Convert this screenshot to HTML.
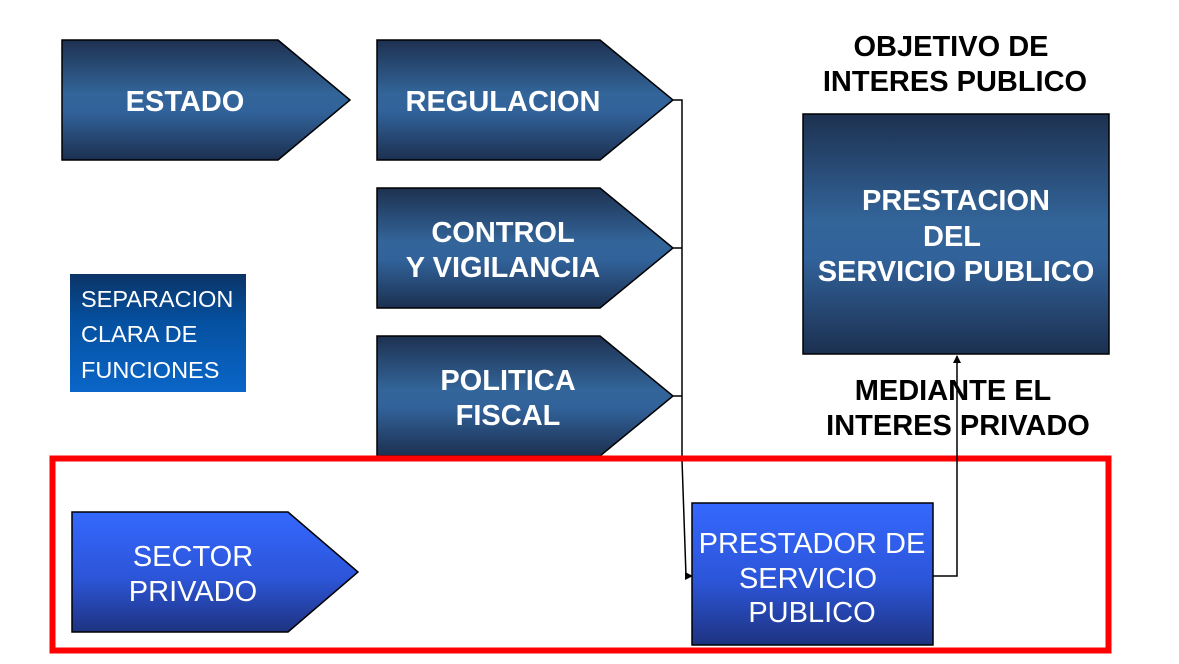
<!DOCTYPE html>
<html><head><meta charset="utf-8"><style>
html,body{margin:0;padding:0;background:#fff;}
svg{display:block;}
text{font-family:"Liberation Sans",sans-serif;}
</style></head><body>
<svg width="1179" height="664" viewBox="0 0 1179 664" xmlns="http://www.w3.org/2000/svg">
<defs>
<linearGradient id="dk" x1="0" y1="0" x2="0" y2="1">
<stop offset="0" stop-color="#1d3150"/><stop offset="0.45" stop-color="#33659a"/><stop offset="0.6" stop-color="#31629a"/><stop offset="1" stop-color="#1c3050"/>
</linearGradient>
<linearGradient id="br" x1="0" y1="0" x2="0" y2="1">
<stop offset="0" stop-color="#3568ff"/><stop offset="0.55" stop-color="#2c55d8"/><stop offset="1" stop-color="#1e3380"/>
</linearGradient>
<linearGradient id="sep" x1="0" y1="0" x2="0" y2="1">
<stop offset="0" stop-color="#0b3466"/><stop offset="0.4" stop-color="#0550a0"/><stop offset="1" stop-color="#0a66c8"/>
</linearGradient>
<marker id="ar" markerWidth="8" markerHeight="8" refX="7" refY="4" orient="auto" markerUnits="userSpaceOnUse">
<path d="M0,0 L8,4 L0,8 z" fill="#000"/></marker>
</defs>

<polygon points="62,40 278,40 350,100 278,160 62,160" fill="url(#dk)" stroke="#000" stroke-width="1.5"/>
<polygon points="377,40 600,40 673,100 600,160 377,160" fill="url(#dk)" stroke="#000" stroke-width="1.5"/>
<polygon points="377,188 600,188 673,248 600,308 377,308" fill="url(#dk)" stroke="#000" stroke-width="1.5"/>
<polygon points="377,336 600,336 673,396 600,456 377,456" fill="url(#dk)" stroke="#000" stroke-width="1.5"/>

<g fill="#fff" font-weight="bold" font-size="29" text-anchor="middle">
<text x="185" y="111">ESTADO</text>
<text x="503" y="111">REGULACION</text>
<text x="503" y="242">CONTROL</text>
<text x="503" y="277">Y VIGILANCIA</text>
<text x="508" y="390">POLITICA</text>
<text x="508" y="425">FISCAL</text>
</g>

<rect x="70" y="274" width="176" height="118" fill="url(#sep)"/>
<g fill="#fff" font-size="23.5">
<text x="81" y="307">SEPARACION</text>
<text x="81" y="342">CLARA DE</text>
<text x="81" y="378">FUNCIONES</text>
</g>

<rect x="803" y="114" width="306" height="240" fill="url(#dk)" stroke="#000" stroke-width="1.5"/>
<g fill="#fff" font-weight="bold" font-size="29" text-anchor="middle">
<text x="956" y="210">PRESTACION</text>
<text x="952" y="246">DEL</text>
<text x="956" y="281">SERVICIO PUBLICO</text>
</g>

<g fill="#000" font-weight="bold" font-size="29" text-anchor="middle">
<text x="951" y="56">OBJETIVO DE</text>
<text x="955" y="91">INTERES PUBLICO</text>
<text x="953" y="400">MEDIANTE EL</text>
<text x="958" y="435">INTERES PRIVADO</text>
</g>

<polyline points="673,100 682,100 682,460 686,576 692,576" fill="none" stroke="#000" stroke-width="1.5" marker-end="url(#ar)"/>
<line x1="673" y1="248" x2="682" y2="248" stroke="#000" stroke-width="1.5"/>
<line x1="673" y1="396" x2="682" y2="396" stroke="#000" stroke-width="1.5"/>

<rect x="52.5" y="458.5" width="1056" height="192" fill="none" stroke="#ff0000" stroke-width="6"/>

<polygon points="72,512 288,512 358,572 288,632 72,632" fill="url(#br)" stroke="#000" stroke-width="1.5"/>
<g fill="#fff" font-size="29" text-anchor="middle">
<text x="193" y="566">SECTOR</text>
<text x="193" y="601">PRIVADO</text>
</g>

<rect x="692" y="503" width="241" height="142" fill="url(#br)" stroke="#000" stroke-width="1.5"/>
<g fill="#fff" font-size="29" text-anchor="middle">
<text x="812" y="553">PRESTADOR DE</text>
<text x="808" y="588">SERVICIO</text>
<text x="812" y="622">PUBLICO</text>
</g>

<polyline points="933,576 957,576 957,356" fill="none" stroke="#000" stroke-width="1.5" marker-end="url(#ar)"/>
</svg>
</body></html>
